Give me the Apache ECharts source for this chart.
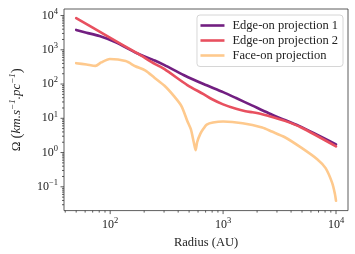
<!DOCTYPE html>
<html>
<head>
<meta charset="utf-8">
<script src="https://cdn.jsdelivr.net/npm/echarts@6/dist/echarts.min.js"></script>
<style>
html,body{margin:0;padding:0;background:#fff;}
#chart{width:355px;height:254px;}
</style>
</head>
<body>
<div id="chart"></div>
<script>
// ---- data ----
var seriesNames = ['Edge-on projection 1', 'Edge-on projection 2', 'Face-on projection'];

var edge1Radius = [50, 61.7, 80.4, 112, 173, 248, 303, 451, 671, 1000, 1303, 1820, 2535, 3524, 4920, 10000];
var edge1Omega  = [3800, 3160, 2510, 1660, 794, 485, 355, 181, 100, 58, 39, 23.4, 14.1, 8.9, 5.6, 1.74];

var edge2Radius = [50, 91.8, 173, 248, 303, 482, 671, 792, 1000, 1303, 1581, 1820, 2218, 2535, 3524, 4920, 10000];
var edge2Omega  = [8430, 2630, 794, 390, 272, 93.5, 50.8, 36.6, 25.5, 18.9, 16.1, 15.0, 13.2, 11.6, 8.4, 5.4, 1.52];

var faceRadius = [50, 61.7, 74.1, 83.2, 99.3, 137, 167, 204, 248, 303, 369, 429, 481, 518, 550, 571, 589, 628, 671, 716, 813, 1000, 1489, 2218, 2704, 3524, 4920, 6855, 8090, 9247, 9772, 10000];
var faceOmega  = [407, 372, 339, 427, 537, 468, 331, 251, 151, 89, 43.6, 22.4, 8.5, 4.8, 2.0, 1.17, 2.0, 3.5, 5.0, 6.5, 7.5, 8.05, 7.2, 5.4, 4.1, 2.8, 1.39, 0.63, 0.35, 0.13, 0.063, 0.039];

var xMajorTicks = [100, 1000, 10000];
var xMinorTicks = [40, 50, 60, 70, 80, 90, 200, 300, 400, 500, 600, 700, 800, 900, 2000, 3000, 4000, 5000, 6000, 7000, 8000, 9000];
var yMajorTicks = [0.1, 1, 10, 100, 1000, 10000];
var yMinorTicks = [0.03, 0.04, 0.05, 0.06, 0.07, 0.08, 0.09, 0.2, 0.3, 0.4, 0.5, 0.6, 0.7, 0.8, 0.9,
  2, 3, 4, 5, 6, 7, 8, 9, 20, 30, 40, 50, 60, 70, 80, 90, 200, 300, 400, 500, 600, 700, 800, 900,
  2000, 3000, 4000, 5000, 6000, 7000, 8000, 9000];

var xMin = 39, xMax = 12770;
var yMin = 0.0202, yMax = 15520;

// ---- chart ----
var FONT = 'Liberation Serif';
var TXT = '#222';
function zip(a, b) { return a.map(function (v, i) { return [v, b[i]]; }); }
function powLabel(v) {
  var e = Math.log(v) / Math.LN10;
  var r = Math.round(e);
  if (Math.abs(e - r) > 1e-6) return '';
  var s = r < 0 ? '\u2212' + (-r) : String(r);
  return '{b|10}{s|' + s + '}';
}
var labelRich = {
  b: {fontFamily: FONT, fontSize: 12, color: TXT, lineHeight: 17},
  s: {fontFamily: FONT, fontSize: 8.5, color: TXT, lineHeight: 9, verticalAlign: 'top'}
};

function tickSeries(values, isX, len) {
  return {
    type: 'custom',
    silent: true,
    clip: false,
    z: 5,
    data: values.map(function (v) { return isX ? [v, yMin] : [xMin, v]; }),
    renderItem: function (params, api) {
      var cs = params.coordSys;
      var p = api.coord([api.value(0), api.value(1)]);
      var shape;
      if (isX) {
        var yb = cs.y + cs.height;
        shape = {x1: p[0], y1: yb, x2: p[0], y2: yb + len};
      } else {
        shape = {x1: cs.x - len, y1: p[1], x2: cs.x, y2: p[1]};
      }
      return {type: 'line', shape: shape, style: {stroke: '#333', lineWidth: 0.8}};
    }
  };
}

var colors = ['#721f81', '#e8505f', '#fec98d'];
function lineSeries(i, r, o) {
  return {
    name: seriesNames[i],
    type: 'line',
    data: zip(r, o),
    showSymbol: false,
    symbol: 'none',
    smooth: 0.25,
    z: 3,
    lineStyle: {color: colors[i], width: 2.6, cap: 'round', join: 'round'},
    itemStyle: {color: colors[i]}
  };
}

var chart = echarts.init(document.getElementById('chart'), null, {renderer: 'canvas'});
chart.setOption({
  animation: false,
  backgroundColor: '#fff',
  grid: {left: 57, right: 7, top: 9, bottom: 39, show: true, borderColor: '#333', borderWidth: 0.8, backgroundColor: 'transparent'},
  legend: {
    data: seriesNames,
    orient: 'vertical',
    right: 12,
    top: 15,
    icon: 'rect',
    itemWidth: 24,
    itemHeight: 2.6,
    itemGap: 1,
    padding: [3.5, 5, 4, 3.5],
    backgroundColor: 'rgba(255,255,255,0.85)',
    borderColor: '#cccccc',
    borderWidth: 0.8,
    borderRadius: 3,
    textStyle: {fontFamily: FONT, fontSize: 12.5, color: TXT, lineHeight: 14, padding: [0, 0, 0, 3]}
  },
  xAxis: {
    type: 'log',
    logBase: 10,
    min: xMin,
    max: xMax,
    name: 'Radius (AU)',
    nameLocation: 'middle',
    nameGap: 24,
    nameTextStyle: {fontFamily: FONT, fontSize: 12.5, color: TXT},
    axisLine: {show: false},
    axisTick: {show: false},
    splitLine: {show: false},
    minorTick: {show: false},
    axisLabel: {margin: 6, formatter: powLabel, rich: labelRich, showMinLabel: true, showMaxLabel: true}
  },
  yAxis: {
    type: 'log',
    logBase: 10,
    min: yMin,
    max: yMax,
    name: '{o|\u03A9} {p|(}{i|km.s}{s|\u22121}{i|.pc}{s|\u22121}{p|)}',
    nameLocation: 'middle',
    nameGap: 38,
    nameTextStyle: {
      fontFamily: FONT, fontSize: 13, color: TXT,
      rich: {
        o: {fontFamily: FONT, fontSize: 13, color: TXT, lineHeight: 18},
        p: {fontFamily: FONT, fontSize: 15, color: TXT, lineHeight: 18},
        i: {fontFamily: FONT, fontSize: 13, fontStyle: 'italic', color: TXT, lineHeight: 18},
        s: {fontFamily: FONT, fontSize: 9, fontStyle: 'italic', color: TXT, lineHeight: 10, verticalAlign: 'top'}
      }
    },
    axisLine: {show: false},
    axisTick: {show: false},
    splitLine: {show: false},
    minorTick: {show: false},
    axisLabel: {margin: 6, formatter: powLabel, rich: labelRich}
  },
  series: [
    lineSeries(0, edge1Radius, edge1Omega),
    lineSeries(1, edge2Radius, edge2Omega),
    lineSeries(2, faceRadius, faceOmega),
    tickSeries(xMajorTicks, true, 3.5),
    tickSeries(xMinorTicks, true, 2),
    tickSeries(yMajorTicks, false, 3.5),
    tickSeries(yMinorTicks, false, 2)
  ]
});
</script>
</body>
</html>
